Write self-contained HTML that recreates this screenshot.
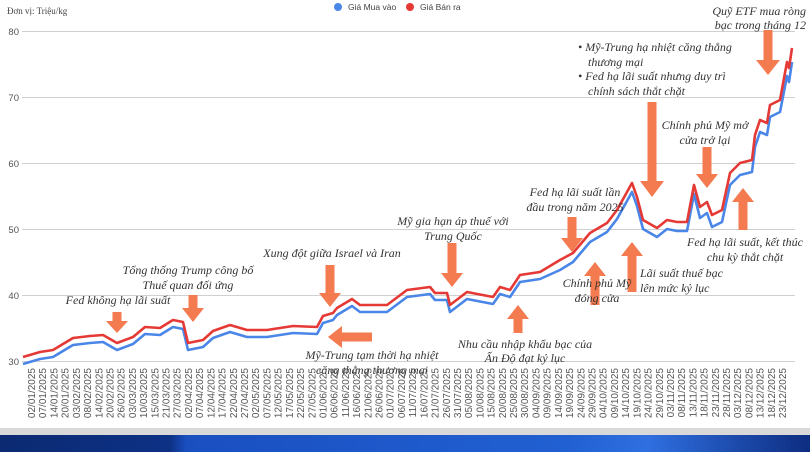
<!DOCTYPE html>
<html><head><meta charset="utf-8"><style>
html,body{margin:0;padding:0;background:#fff}
svg{display:block}
.a{fill:#f47a50}
.t{font-family:"Liberation Serif",serif;font-style:italic;font-size:12px;fill:#333}
.d{font-family:"Liberation Sans",sans-serif;font-size:10px;fill:#555}
.y{font-family:"Liberation Sans",sans-serif;font-size:9.5px;fill:#555}
</style></head><body>
<svg width="810" height="452" viewBox="0 0 810 452" xmlns="http://www.w3.org/2000/svg">
<defs>
<linearGradient id="bn" x1="0" x2="1" y1="0" y2="0">
<stop offset="0" stop-color="#0b2a72"/><stop offset="0.21" stop-color="#0d3185"/><stop offset="0.23" stop-color="#1a4fc0"/><stop offset="0.7" stop-color="#2160d2"/><stop offset="0.8" stop-color="#2f6fe0"/><stop offset="1" stop-color="#0d2d80"/>
</linearGradient>
</defs>
<text x="7" y="14" style="font-family:'Liberation Serif',serif;font-size:9px;fill:#444">Đơn vị: Triệu/kg</text>
<circle cx="338" cy="7" r="4" fill="#4a86e8"/><text x="348" y="10" style="font-family:'Liberation Sans',sans-serif;font-size:8.5px;fill:#444">Giá Mua vào</text>
<circle cx="410" cy="7" r="4" fill="#e53935"/><text x="420" y="10" style="font-family:'Liberation Sans',sans-serif;font-size:8.5px;fill:#444">Giá Bán ra</text>
<g stroke="#d0d0d0" stroke-width="1">
<line x1="22" x2="795" y1="31.5" y2="31.5"/><line x1="22" x2="795" y1="97.5" y2="97.5"/><line x1="22" x2="795" y1="163.5" y2="163.5"/><line x1="22" x2="795" y1="229.5" y2="229.5"/><line x1="22" x2="795" y1="295.5" y2="295.5"/><line x1="22" x2="795" y1="361.5" y2="361.5"/>
</g>
<g class="y" text-anchor="end">
<text x="19" y="35">80</text><text x="19" y="101">70</text><text x="19" y="167">60</text><text x="19" y="233">50</text><text x="19" y="299">40</text><text x="19" y="365">30</text>
</g>
<polyline fill="none" stroke="#4a86e8" stroke-width="2.6" stroke-linejoin="round" points="23,364 40,359 53,357 73,345 90,343 103,342 117,350 133,344 145,334 160,335 173,327 183,329 188,350 203,347 213,338 230,332 247,337 267,337 293,333 317,334 323,323 333,320 337,315 352,306 360,312 387,312 407,297 430,294 435,300 447,300 450,312 467,299 493,304 500,294 510,297 520,282 540,279 560,270 573,262 590,242 607,232 617,219 632,192 637,206 643,229 657,237 667,229 677,231 687,231 694,194 700,218 707,213 712,227 722,222 730,185 740,175 752,172 755,147 760,132 767,135 770,117 780,112 787,76 789,82 792,62"/>
<polyline fill="none" stroke="#e53935" stroke-width="2.6" stroke-linejoin="round" points="23,357 40,352 53,350 73,338 90,336 103,335 117,343 133,337 145,327 160,328 173,320 183,322 188,343 203,340 213,331 230,325 247,330 267,330 293,326 317,327 323,316 333,313 337,308 352,299 360,305 387,305 407,290 430,287 435,293 447,293 450,305 467,292 493,297 500,287 510,290 520,275 540,272 560,260 573,253 590,233 607,223 617,210 632,183 637,197 643,220 657,228 667,220 677,222 687,222 694,185 700,207 707,202 712,215 722,210 730,173 740,163 752,160 755,135 760,120 767,123 770,105 780,100 787,62 789,68 792,48"/>
<g class="a">
<polygon points="112.5,312 121.5,312 121.5,321 128,321 117,333 106,321 112.5,321"/>
<polygon points="188.5,295 197.5,295 197.5,308 204,308 193,322 182,308 188.5,308"/>
<polygon points="325.5,265 334.5,265 334.5,293 341,293 330,307 319,293 325.5,293"/>
<polygon points="447.5,243 456.5,243 456.5,273 463,273 452,287 441,273 447.5,273"/>
<polygon points="372,332.5 372,341.5 342,341.5 342,348 328,337 342,326 342,332.5"/>
<polygon points="518,305 529,319 522.5,319 522.5,333 513.5,333 513.5,319 507,319"/>
<polygon points="567.5,217 576.5,217 576.5,238 583,238 572,252 561,238 567.5,238"/>
<polygon points="595,262 606,276 599.5,276 599.5,305 590.5,305 590.5,276 584,276"/>
<polygon points="647.5,102 656.5,102 656.5,181 664,181 652,197 640,181 647.5,181"/>
<polygon points="632,242 643,256 636.5,256 636.5,292 627.5,292 627.5,256 621,256"/>
<polygon points="702.5,147 711.5,147 711.5,174 718,174 707,188 696,174 702.5,174"/>
<polygon points="743,188 754,202 747.5,202 747.5,230 738.5,230 738.5,202 732,202"/>
<polygon points="763.5,30 772.5,30 772.5,60 780,60 768,75 756,60 763.5,60"/>
</g>
<g class="t" text-anchor="middle">
<text x="118" y="304">Fed không hạ lãi suất</text>
<text x="188" y="274">Tổng thống Trump công bố</text><text x="188" y="289">Thuế quan đối ứng</text>
<text x="332" y="257">Xung đột giữa Israel và Iran</text>
<text x="453" y="225">Mỹ gia hạn áp thuế với</text><text x="453" y="240">Trung Quốc</text>
<text x="372" y="359">Mỹ-Trung tạm thời hạ nhiệt</text><text x="372" y="374">căng thẳng thương mại</text>
<text x="525" y="348">Nhu cầu nhập khẩu bạc của</text><text x="525" y="362">Ấn Độ đạt kỷ lục</text>
<text x="575" y="196">Fed hạ lãi suất lần</text><text x="575" y="211">đầu trong năm 2025</text>
<text x="597" y="287">Chính phủ Mỹ</text><text x="597" y="302">đóng cửa</text>
<text x="705" y="129">Chính phủ Mỹ mở</text><text x="705" y="144">cửa trở lại</text>
<text x="745" y="246">Fed hạ lãi suất, kết thúc</text><text x="745" y="261">chu kỳ thắt chặt</text>
</g>
<g class="t" text-anchor="end">
<text x="806" y="15">Quỹ ETF mua ròng</text><text x="806" y="29">bạc trong tháng 12</text>
</g>
<g class="t">
<text x="640" y="277">Lãi suất thuế bạc</text><text x="640" y="292">lên mức kỷ lục</text>
<text x="578" y="51">•  Mỹ-Trung hạ nhiệt căng thẳng</text><text x="588" y="66">thương mại</text>
<text x="578" y="80">•  Fed hạ lãi suất nhưng duy trì</text><text x="588" y="95">chính sách thắt chặt</text>
</g>
<g class="d" text-anchor="end">
<text transform="translate(35,368) rotate(-90)">02/01/2025</text>
<text transform="translate(46.2,368) rotate(-90)">07/01/2025</text>
<text transform="translate(57.4,368) rotate(-90)">14/01/2025</text>
<text transform="translate(68.6,368) rotate(-90)">20/01/2025</text>
<text transform="translate(79.8,368) rotate(-90)">03/02/2025</text>
<text transform="translate(91.1,368) rotate(-90)">08/02/2025</text>
<text transform="translate(102.3,368) rotate(-90)">14/02/2025</text>
<text transform="translate(113.5,368) rotate(-90)">20/02/2025</text>
<text transform="translate(124.7,368) rotate(-90)">26/02/2025</text>
<text transform="translate(135.9,368) rotate(-90)">03/03/2025</text>
<text transform="translate(147.1,368) rotate(-90)">10/03/2025</text>
<text transform="translate(158.3,368) rotate(-90)">15/03/2025</text>
<text transform="translate(169.5,368) rotate(-90)">21/03/2025</text>
<text transform="translate(180.7,368) rotate(-90)">27/03/2025</text>
<text transform="translate(191.9,368) rotate(-90)">02/04/2025</text>
<text transform="translate(203.2,368) rotate(-90)">07/04/2025</text>
<text transform="translate(214.4,368) rotate(-90)">12/04/2025</text>
<text transform="translate(225.6,368) rotate(-90)">17/04/2025</text>
<text transform="translate(236.8,368) rotate(-90)">22/04/2025</text>
<text transform="translate(248,368) rotate(-90)">27/04/2025</text>
<text transform="translate(259.2,368) rotate(-90)">02/05/2025</text>
<text transform="translate(270.4,368) rotate(-90)">07/05/2025</text>
<text transform="translate(281.6,368) rotate(-90)">12/05/2025</text>
<text transform="translate(292.8,368) rotate(-90)">17/05/2025</text>
<text transform="translate(304,368) rotate(-90)">22/05/2025</text>
<text transform="translate(315.3,368) rotate(-90)">27/05/2025</text>
<text transform="translate(326.5,368) rotate(-90)">01/06/2025</text>
<text transform="translate(337.7,368) rotate(-90)">06/06/2025</text>
<text transform="translate(348.9,368) rotate(-90)">11/06/2025</text>
<text transform="translate(360.1,368) rotate(-90)">16/06/2025</text>
<text transform="translate(371.3,368) rotate(-90)">21/06/2025</text>
<text transform="translate(382.5,368) rotate(-90)">26/06/2025</text>
<text transform="translate(393.7,368) rotate(-90)">01/07/2025</text>
<text transform="translate(404.9,368) rotate(-90)">06/07/2025</text>
<text transform="translate(416.1,368) rotate(-90)">11/07/2025</text>
<text transform="translate(427.4,368) rotate(-90)">16/07/2025</text>
<text transform="translate(438.6,368) rotate(-90)">21/07/2025</text>
<text transform="translate(449.8,368) rotate(-90)">26/07/2025</text>
<text transform="translate(461,368) rotate(-90)">31/07/2025</text>
<text transform="translate(472.2,368) rotate(-90)">05/08/2025</text>
<text transform="translate(483.4,368) rotate(-90)">10/08/2025</text>
<text transform="translate(494.6,368) rotate(-90)">15/08/2025</text>
<text transform="translate(505.8,368) rotate(-90)">20/08/2025</text>
<text transform="translate(517,368) rotate(-90)">25/08/2025</text>
<text transform="translate(528.2,368) rotate(-90)">30/08/2025</text>
<text transform="translate(539.5,368) rotate(-90)">04/09/2025</text>
<text transform="translate(550.7,368) rotate(-90)">09/09/2025</text>
<text transform="translate(561.9,368) rotate(-90)">14/09/2025</text>
<text transform="translate(573.1,368) rotate(-90)">19/09/2025</text>
<text transform="translate(584.3,368) rotate(-90)">24/09/2025</text>
<text transform="translate(595.5,368) rotate(-90)">29/09/2025</text>
<text transform="translate(606.7,368) rotate(-90)">04/10/2025</text>
<text transform="translate(617.9,368) rotate(-90)">09/10/2025</text>
<text transform="translate(629.1,368) rotate(-90)">14/10/2025</text>
<text transform="translate(640.3,368) rotate(-90)">19/10/2025</text>
<text transform="translate(651.6,368) rotate(-90)">24/10/2025</text>
<text transform="translate(662.8,368) rotate(-90)">29/10/2025</text>
<text transform="translate(674,368) rotate(-90)">03/11/2025</text>
<text transform="translate(685.2,368) rotate(-90)">08/11/2025</text>
<text transform="translate(696.4,368) rotate(-90)">13/11/2025</text>
<text transform="translate(707.6,368) rotate(-90)">18/11/2025</text>
<text transform="translate(718.8,368) rotate(-90)">23/11/2025</text>
<text transform="translate(730,368) rotate(-90)">28/11/2025</text>
<text transform="translate(741.2,368) rotate(-90)">03/12/2025</text>
<text transform="translate(752.4,368) rotate(-90)">08/12/2025</text>
<text transform="translate(763.7,368) rotate(-90)">13/12/2025</text>
<text transform="translate(774.9,368) rotate(-90)">18/12/2025</text>
<text transform="translate(786.1,368) rotate(-90)">23/12/2025</text>
</g>
<rect x="0" y="428" width="810" height="7" fill="#d9d9d9"/>
<rect x="0" y="435" width="810" height="17" fill="url(#bn)"/>
</svg>
</body></html>
